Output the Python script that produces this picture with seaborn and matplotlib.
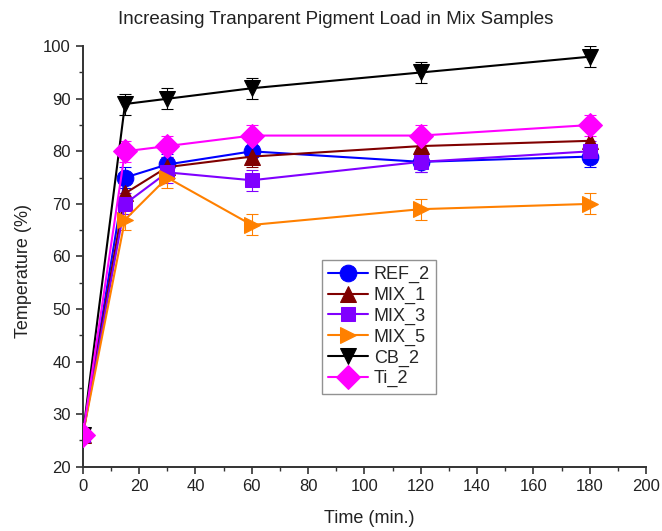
import matplotlib
matplotlib.use("Agg")
import matplotlib.pyplot as plt
from matplotlib.ticker import MultipleLocator
import numpy as np
import pandas as pd
import seaborn as sns

# Sampling times (min.)
time = [0, 15, 30, 60, 120, 180]

# Measured values per sample
ref_2 = [26, 75, 77.5, 80, 78, 79]
mix_1 = [26, 72, 77, 79, 81, 82]
mix_3 = [26, 70, 76, 74.5, 78, 80]
mix_5 = [26, 67, 75, 66, 69, 70]
cb_2 = [26, 89, 90, 92, 95, 98]
ti_2 = [26, 80, 81, 83, 83, 85]

# Standard deviation shown as error bars
err = [0.8, 2, 2, 2, 2, 2]

names = ["REF_2", "MIX_1", "MIX_3", "MIX_5", "CB_2", "Ti_2"]
series = [ref_2, mix_1, mix_3, mix_5, cb_2, ti_2]
colors = ["#0000FF", "#800000", "#8000FF", "#FF8000", "#000000", "#FF00FF"]
markers = ["o", "^", "s", ">", "v", "D"]
msizes = [12, 12, 10.5, 12, 12, 12]

sns.set_theme(style="ticks")
plt.rcParams["font.family"] = ["Liberation Sans", "DejaVu Sans"]

df = pd.DataFrame({
    "time": np.tile(time, len(names)),
    "value": np.concatenate(series),
    "sample": np.repeat(names, len(time)),
})

fig = plt.figure(figsize=(6.62, 5.31), dpi=100)
ax = fig.add_axes([0.125, 0.121, 0.851, 0.792])

for name, col, mk, ms, vals in zip(names, colors, markers, msizes, series):
    ax.errorbar(time, vals, yerr=err, fmt="none", ecolor=col,
                elinewidth=0.8, capsize=4, capthick=0.8, zorder=2)
    sns.lineplot(data=df[df["sample"] == name], x="time", y="value",
                 color=col, marker=mk, markersize=ms, markeredgecolor=col,
                 linewidth=1.5, label=name, ax=ax, zorder=3, clip_on=True)

ax.set_xlim(0, 200)
ax.set_ylim(20, 100)
ax.xaxis.set_major_locator(MultipleLocator(20))
ax.xaxis.set_minor_locator(MultipleLocator(10))
ax.yaxis.set_major_locator(MultipleLocator(10))
ax.yaxis.set_minor_locator(MultipleLocator(5))
ax.tick_params(which="major", direction="out", length=5, width=1.2,
               labelsize=12, colors="#333333", labelcolor="#222222")
ax.tick_params(which="minor", direction="out", length=3, width=1.0,
               colors="#333333")
for side in ("top", "right"):
    ax.spines[side].set_visible(False)
for side in ("left", "bottom"):
    ax.spines[side].set_linewidth(1.4)
    ax.spines[side].set_color("#333333")

ax.set_xlabel("Time (min.)", fontsize=13, color="#222222", labelpad=12, x=0.508)
ax.set_ylabel("Temperature (%)", fontsize=13, color="#222222", labelpad=8, y=0.466)
ax.set_title("Increasing Tranparent Pigment Load in Mix Samples",
             fontsize=13.5, color="#222222", pad=16, x=0.449)

leg = ax.legend(loc="upper left", bbox_to_anchor=(0.425, 0.492), fontsize=13,
                frameon=True, fancybox=False, edgecolor="#777777",
                borderpad=0.35, labelspacing=0.2, handlelength=2.2,
                handletextpad=0.3, borderaxespad=0)
leg.get_frame().set_linewidth(1.0)

fig.savefig("out.png", dpi=100)
